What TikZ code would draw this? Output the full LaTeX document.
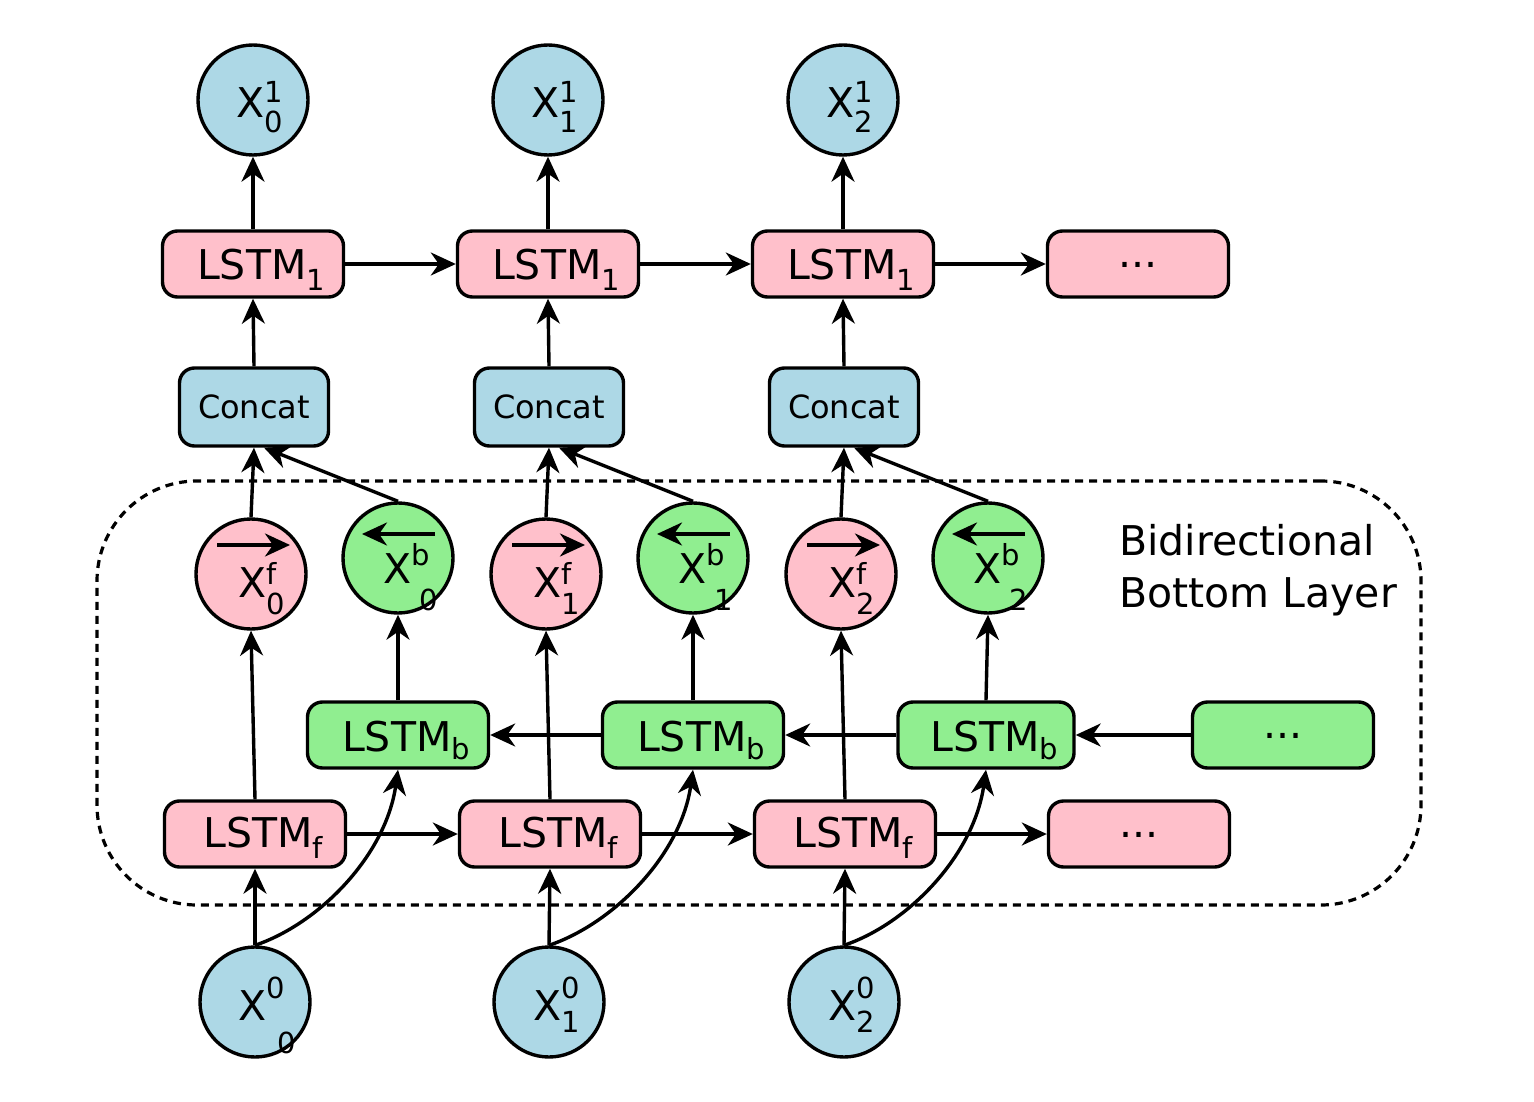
\documentclass[tikz,border=0pt]{standalone}
\usepackage{fontspec}
\setmainfont{DejaVu Sans}
\usetikzlibrary{arrows.meta,calc}
\definecolor{lblue}{HTML}{ADD8E6}
\definecolor{lpink}{HTML}{FFC0CB}
\definecolor{lgreen}{HTML}{90EE90}
\newcommand{\mainsz}{\fontsize{41}{49}\selectfont}
\newcommand{\smsz}{\fontsize{29}{35}\selectfont}
\newcommand{\consz}{\fontsize{32}{38}\selectfont}
\newcommand{\lstmtxt}[3]{\kern16pt\smash{\raisebox{-#3pt}{\mainsz LSTM\raisebox{-#2pt}{\smsz #1}}}}
\newcommand{\dotstxt}{\smash{\raisebox{-3pt}{\mainsz ...}}}
\newcommand{\atpos}[3]{\smash{\makebox[0pt][l]{\kern#1pt\raisebox{#2pt}{\mainsz #3}}}}
\tikzset{
  arr/.style={line width=3.4pt, -{Stealth[length=25pt,width=23pt,inset=8pt]}},
  lbox/.style={draw, line width=3.4pt, rounded corners=15pt, minimum width=181pt, minimum height=66pt, inner sep=0pt},
  cbox/.style={draw, line width=3.4pt, rounded corners=15pt, minimum width=149pt, minimum height=78pt, inner sep=0pt, fill=lblue},
  circ/.style={draw, circle, line width=3.4pt, minimum size=110pt, inner sep=0pt},
  region/.style={draw, line width=3.2pt, dash pattern=on 8pt off 6pt, rounded corners=100pt, minimum width=1324pt, minimum height=424pt, inner sep=0pt},
  txt/.style={anchor=base west, inner sep=0pt, font=\mainsz}
}
\begin{document}
\begin{tikzpicture}[x=1pt,y=-1pt]
\useasboundingbox (0,0) rectangle (1534,1102);

% dashed region
\node[region] (bidir) at (759,693) {};
\node[txt] (bl1) at (1119,555) {Bidirectional};
\node[txt] (bl2) at (1119,607) {Bottom Layer};

% top outputs
\foreach \i/\x in {0/253,1/548,2/843}
  \node[circ, fill=lblue] (xo\i) at (\x,100) {\atpos{-17}{-18}{X\rlap{\raisebox{15pt}{\smsz 1}}\raisebox{-15pt}{\smsz \i}}};

% LSTM1 row
\foreach \i/\x in {0/253,1/548,2/843}
  \node[lbox, fill=lpink] (l1\i) at (\x,264) {\lstmtxt{1}{12}{15}};
\node[lbox, fill=lpink] (l13) at (1138,264) {\dotstxt};

% Concat row
\foreach \i/\x in {0/254,1/549,2/844}
  \node[cbox] (cc\i) at (\x,407) {\smash{\raisebox{-11pt}{\consz Concat}}};

% forward outputs
\foreach \i/\x in {0/251,1/546,2/841}
  \node[circ, fill=lpink] (xf\i) at (\x,574) {\atpos{-13}{-23}{X\rlap{\raisebox{13pt}{\smsz f}}\raisebox{-17pt}{\smsz \i}}};

% backward outputs
\foreach \i/\x in {0/398,1/693,2/988}
  \node[circ, fill=lgreen] (xb\i) at (\x,558) {\atpos{-15}{-25}{X\rlap{\raisebox{18pt}{\smsz b}}\kern8pt\raisebox{-27pt}{\smsz \i}}};

% LSTM_b row
\node[lbox, fill=lgreen] (lb0) at (398,735) {\lstmtxt{b}{8}{16}};
\node[lbox, fill=lgreen] (lb1) at (693,735) {\lstmtxt{b}{8}{16}};
\node[lbox, fill=lgreen, minimum width=176pt] (lb2) at (986,735) {\lstmtxt{b}{8}{16}};
\node[lbox, fill=lgreen] (lb3) at (1283,735) {\dotstxt};

% LSTM_f row
\foreach \i/\x in {0/255,1/550,2/845}
  \node[lbox, fill=lpink] (lf\i) at (\x,834) {\lstmtxt{f}{11}{13}};
\node[lbox, fill=lpink] (lf3) at (1139,834) {\dotstxt};

% inputs
\node[circ, fill=lblue] (x00) at (255,1002) {\atpos{-17}{-18}{X\rlap{\raisebox{22pt}{\smsz 0}}\kern11pt\raisebox{-33pt}{\smsz 0}}};
\node[circ, fill=lblue] (x01) at (549,1002) {\atpos{-16}{-18}{X\rlap{\raisebox{22pt}{\smsz 0}}\raisebox{-12pt}{\smsz 1}}};
\node[circ, fill=lblue] (x02) at (844,1002) {\atpos{-16}{-18}{X\rlap{\raisebox{22pt}{\smsz 0}}\raisebox{-12pt}{\smsz 2}}};

% vertical connections
\foreach \i in {0,1,2} {
  \draw[arr] (x0\i.north) -- (lf\i.south);
  \draw[arr] (x0\i.north) .. controls +(65,-22) and +(-12,85) .. (lb\i.south);
  \draw[arr] (lf\i.north) -- (xf\i.south);
  \draw[arr] (lb\i.north) -- (xb\i.south);
  \draw[arr] (xf\i.north) -- (cc\i.south);
  \draw[arr] (xb\i.north) -- ([xshift=10pt]cc\i.south);
  \draw[arr] (cc\i.north) -- (l1\i.south);
  \draw[arr] (l1\i.north) -- (xo\i.south);
  \draw[arr] ([shift={(-34,-29)}]xf\i.center) -- ([shift={(39,-29)}]xf\i.center);
  \draw[arr] ([shift={(37,-24)}]xb\i.center) -- ([shift={(-36,-24)}]xb\i.center);
}

% horizontal connections
\draw[arr] (l10.east) -- (l11.west);
\draw[arr] (l11.east) -- (l12.west);
\draw[arr] (l12.east) -- (l13.west);
\draw[arr] (lf0.east) -- (lf1.west);
\draw[arr] (lf1.east) -- (lf2.west);
\draw[arr] (lf2.east) -- (lf3.west);
\draw[arr] (lb3.west) -- (lb2.east);
\draw[arr] (lb2.west) -- (lb1.east);
\draw[arr] (lb1.west) -- (lb0.east);
\end{tikzpicture}
\end{document}
